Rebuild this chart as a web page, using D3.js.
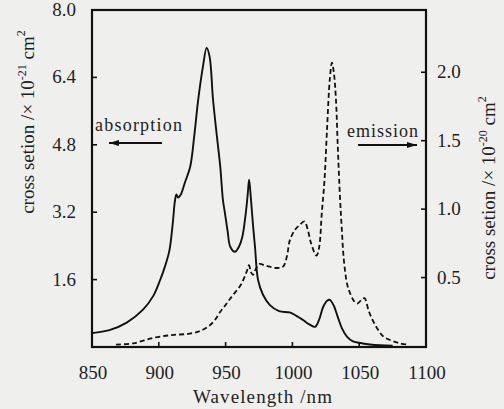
<!DOCTYPE html>
<html>
<head>
<meta charset="utf-8">
<script src="https://cdn.jsdelivr.net/npm/d3@7"></script>
<style>
  body { margin: 0; background: #efefed; }
  svg { display: block; }
</style>
</head>
<body>
<svg width="504" height="409"></svg>
<script>
// absorption (solid, left axis, x 10^-21 cm^2)
const abs_nm  = [850, 863, 876, 888, 896, 901, 905, 908, 910.5, 912, 913.2, 914.5, 916.5, 919.5, 923.5, 926.5, 929.5, 933, 935.8, 938, 940.6, 943.5, 946, 948, 949.5, 951.5, 953.5, 957, 960, 962.5, 965, 966.5, 967.6, 969, 970.5, 972, 974.3, 978, 983, 990, 998, 1003, 1008, 1013, 1017, 1020, 1023, 1026, 1028, 1031, 1034, 1037, 1041, 1045, 1050, 1058, 1066, 1075];
const abs_val = [0.33, 0.40, 0.58, 0.88, 1.22, 1.59, 1.95, 2.30, 2.95, 3.45, 3.62, 3.55, 3.62, 3.90, 4.28, 5.0, 5.87, 6.65, 7.10, 6.9, 5.87, 5.0, 4.28, 3.49, 3.18, 2.75, 2.38, 2.26, 2.38, 2.61, 3.15, 3.6, 3.97, 3.5, 2.9, 2.38, 1.59, 1.24, 1.0, 0.85, 0.82, 0.74, 0.64, 0.53, 0.48, 0.65, 0.95, 1.1, 1.12, 0.98, 0.71, 0.45, 0.24, 0.14, 0.1, 0.06, 0.04, 0.03];

// emission (dashed, right axis, x 10^-20 cm^2)
const emi_nm  = [868, 881, 896, 910, 923, 931, 938, 942, 946, 950, 953, 957, 961, 964, 966, 967.5, 969, 970.5, 972.5, 975.5, 979, 983, 988, 993, 996, 998, 1002, 1005, 1009, 1011.5, 1014, 1018, 1020, 1022, 1024, 1026, 1028, 1029.6, 1031, 1032.6, 1034, 1035.6, 1037, 1038.5, 1041, 1043, 1046, 1048.5, 1052, 1054, 1057, 1060, 1064, 1068, 1074, 1080, 1086];
const emi_val = [0.01, 0.02, 0.06, 0.08, 0.09, 0.11, 0.15, 0.19, 0.25, 0.30, 0.34, 0.39, 0.44, 0.5, 0.55, 0.59, 0.54, 0.52, 0.56, 0.60, 0.59, 0.58, 0.57, 0.58, 0.66, 0.77, 0.85, 0.88, 0.91, 0.85, 0.75, 0.66, 0.72, 0.97, 1.21, 1.6, 1.95, 2.07, 2.0, 1.8, 1.45, 1.09, 0.85, 0.63, 0.45, 0.39, 0.33, 0.31, 0.34, 0.35, 0.26, 0.19, 0.12, 0.07, 0.04, 0.02, 0.01];

const x_ticks = [850, 900, 950, 1000, 1050, 1100];
const left_ticks = [1.6, 3.2, 4.8, 6.4, 8.0];
const right_ticks = [0.5, 1.0, 1.5, 2.0];

const svg = d3.select('svg')
    .attr('font-family', '"Liberation Serif", "Times New Roman", "DejaVu Serif", serif')
    .style('fill', '#1e1e1e');
const m_left = 92, m_right = 426, m_top = 10, m_bottom = 347;

const x = d3.scaleLinear().domain([850, 1100]).range([m_left, m_right]);
const yL = d3.scaleLinear().domain([0, 8]).range([m_bottom, m_top]);
const yR = d3.scaleLinear().domain([0, 2.455]).range([m_bottom - 1, m_top]);

// frame
svg.append('rect')
    .attr('x', m_left).attr('y', m_top)
    .attr('width', m_right - m_left).attr('height', m_bottom - m_top)
    .attr('fill', 'none').attr('stroke', '#111').attr('stroke-width', 2.2);

// inward ticks
const ax = svg.append('g').attr('stroke', '#111').attr('stroke-width', 1.6);
ax.selectAll('.xt').data(x_ticks.slice(1, -1)).enter().append('line')
    .attr('x1', d => x(d)).attr('x2', d => x(d))
    .attr('y1', m_bottom).attr('y2', m_bottom - 5);
ax.selectAll('.lt').data(left_ticks.slice(0, -1)).enter().append('line')
    .attr('x1', m_left).attr('x2', m_left + 5)
    .attr('y1', d => yL(d)).attr('y2', d => yL(d));
ax.selectAll('.rt').data(right_ticks).enter().append('line')
    .attr('x1', m_right).attr('x2', m_right - 5)
    .attr('y1', d => yR(d)).attr('y2', d => yR(d));

// tick labels
svg.selectAll('.xl').data(x_ticks).enter().append('text')
    .attr('x', d => x(d) + 1).attr('y', 379)
    .attr('text-anchor', 'middle').attr('font-size', 19)
    .text(d => d);
svg.selectAll('.ll').data(left_ticks).enter().append('text')
    .attr('x', 76).attr('y', d => yL(d) + 6)
    .attr('text-anchor', 'end').attr('font-size', 19)
    .text(d => d.toFixed(1));
svg.selectAll('.rl').data(right_ticks).enter().append('text')
    .attr('x', 437).attr('y', d => yR(d) + 6)
    .attr('font-size', 19)
    .text(d => d.toFixed(1));

// axis titles
svg.append('text').attr('x', 193).attr('y', 403)
    .attr('font-size', 19).attr('textLength', 139)
    .text('Wavelength /nm');

function axisTitle(cx, cy, exp) {
    const t = svg.append('text')
        .attr('transform', 'translate(' + cx + ',' + cy + ') rotate(-90)')
        .attr('text-anchor', 'middle').attr('font-size', 19);
    t.append('tspan').text('cross setion /\u00d7 10');
    t.append('tspan').attr('font-size', 12).attr('dy', -8).text(exp);
    t.append('tspan').attr('dy', 8).text(' cm');
    t.append('tspan').attr('font-size', 12).attr('dy', -9).text('2');
}
axisTitle(34, 122, '-21');
axisTitle(495, 188, '-20');

// curves
const lineAbs = d3.line()
    .x((d, i) => x(abs_nm[i])).y(d => yL(d))
    .curve(d3.curveCatmullRom.alpha(0.5));
const lineEmi = d3.line()
    .x((d, i) => x(emi_nm[i])).y(d => yR(d))
    .curve(d3.curveCatmullRom.alpha(0.5));

svg.append('path').attr('d', lineEmi(emi_val))
    .attr('fill', 'none').attr('stroke', '#111').attr('stroke-width', 1.8)
    .attr('stroke-dasharray', '5,3');
svg.append('path').attr('d', lineAbs(abs_val))
    .attr('fill', 'none').attr('stroke', '#111').attr('stroke-width', 1.9);

// annotations
svg.append('defs').append('marker')
    .attr('id', 'ah').attr('viewBox', '0 0 10 6')
    .attr('refX', 10).attr('refY', 3)
    .attr('markerWidth', 10).attr('markerHeight', 6)
    .attr('markerUnits', 'userSpaceOnUse').attr('orient', 'auto')
    .append('path').attr('d', 'M0,0 L10,3 L0,6 Z').attr('fill', '#111');

svg.append('text').attr('x', 95).attr('y', 131).attr('font-size', 18)
    .attr('textLength', 87).text('absorption');
svg.append('line').attr('x1', 162).attr('x2', 109).attr('y1', 143).attr('y2', 143)
    .attr('stroke', '#111').attr('stroke-width', 2).attr('marker-end', 'url(#ah)');

svg.append('text').attr('x', 347).attr('y', 137).attr('font-size', 18)
    .attr('textLength', 71).text('emission');
svg.append('line').attr('x1', 358).attr('x2', 417).attr('y1', 145).attr('y2', 145)
    .attr('stroke', '#111').attr('stroke-width', 2).attr('marker-end', 'url(#ah)');
</script>
</body>
</html>
